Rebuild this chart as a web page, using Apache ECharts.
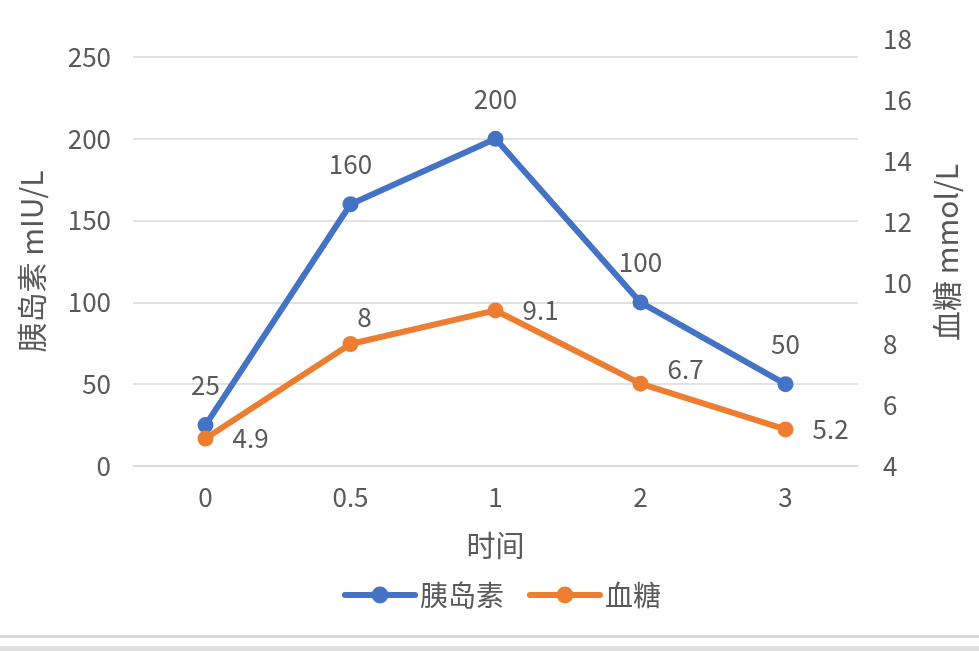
<!DOCTYPE html>
<html>
<head>
<meta charset="utf-8">
<script src="https://cdn.jsdelivr.net/npm/echarts@6/dist/echarts.min.js"></script>
<style>html,body{margin:0;padding:0;background:#fff;}#c{width:979px;height:651px;}</style>
</head>
<body>
<div id="c"></div>
<script>
const categories = ['0', '0.5', '1', '2', '3'];
const insulin = [25, 160, 200, 100, 50];
const glucose = [4.9, 8, 9.1, 6.7, 5.2];
const seriesNames = ['胰岛素', '血糖'];
const xName = '时间';
const leftName = '胰岛素 mIU/L';
const rightName = '血糖 mmol/L';

const FONT = '"Noto Sans CJK SC", "Noto Sans", sans-serif';
const TXT = '#595959';
const GRID = '#d9d9d9';
const BLUE = '#4472C4';
const ORANGE = '#ED7D31';

const glucoseLabelOverrides = {
  1: { position: 'top', distance: 6, offset: [14, 0] },
  3: { offset: [0, -15] }
};

const chart = echarts.init(document.getElementById('c'));
chart.setOption({
  animation: false,
  textStyle: { fontFamily: FONT },
  grid: [
    { left: 133, right: 121, top: 57, bottom: 185, containLabel: false },
    { left: 133, right: 121, top: 39, bottom: 185, containLabel: false }
  ],
  legend: {
    left: 337, top: 576,
    itemWidth: 70, itemHeight: 21, itemGap: 23,
    lineStyle: { width: 6, cap: 'round' },
    textStyle: { fontSize: 28, color: TXT, fontFamily: FONT },
    data: seriesNames
  },
  xAxis: [
    {
      gridIndex: 0, type: 'category', data: categories, boundaryGap: true,
      axisLine: { lineStyle: { color: GRID, width: 1.5 } },
      axisTick: { show: false },
      axisLabel: { fontSize: 26, color: TXT, margin: 18, fontFamily: FONT },
      name: xName, nameLocation: 'middle', nameGap: 65,
      nameTextStyle: { fontSize: 29, color: TXT, fontFamily: FONT }
    },
    {
      gridIndex: 1, type: 'category', data: categories, boundaryGap: true, show: false
    }
  ],
  yAxis: [
    {
      gridIndex: 0, type: 'value', min: 0, max: 250, interval: 50, position: 'left',
      axisLine: { show: false }, axisTick: { show: false },
      splitLine: { lineStyle: { color: GRID, width: 1.5 } },
      axisLabel: { fontSize: 26, color: TXT, margin: 22, fontFamily: FONT },
      name: leftName, nameLocation: 'middle', nameGap: 86, nameRotate: 90,
      nameTextStyle: { fontSize: 30, color: TXT, fontFamily: FONT }
    },
    {
      gridIndex: 1, type: 'value', min: 4, max: 18, interval: 2, position: 'right',
      axisLine: { show: false }, axisTick: { show: false },
      splitLine: { show: false },
      axisLabel: { fontSize: 26, color: TXT, margin: 25, fontFamily: FONT },
      name: rightName, nameLocation: 'middle', nameGap: 74, nameRotate: 90,
      nameTextStyle: { fontSize: 30, color: TXT, fontFamily: FONT }
    }
  ],
  series: [
    {
      name: seriesNames[0], type: 'line', xAxisIndex: 0, yAxisIndex: 0,
      data: insulin,
      symbol: 'circle', symbolSize: 16,
      itemStyle: { color: BLUE },
      lineStyle: { color: BLUE, width: 6 },
      label: { show: true, position: 'top', distance: 19, fontSize: 26, color: TXT, fontFamily: FONT }
    },
    {
      name: seriesNames[1], type: 'line', xAxisIndex: 1, yAxisIndex: 1,
      data: glucose.map((v, i) => glucoseLabelOverrides[i] ? { value: v, label: glucoseLabelOverrides[i] } : v),
      symbol: 'circle', symbolSize: 16,
      itemStyle: { color: ORANGE },
      lineStyle: { color: ORANGE, width: 6 },
      label: { show: true, position: 'right', distance: 19, fontSize: 26, color: TXT, fontFamily: FONT }
    }
  ],
  graphic: [
    { type: 'rect', left: 0, top: 635, shape: { width: 979, height: 3 }, style: { fill: '#d6d6d6' }, silent: true },
    { type: 'rect', left: 0, top: 646, shape: { width: 979, height: 5 }, style: { fill: '#dedede' }, silent: true }
  ]
});
</script>
</body>
</html>
